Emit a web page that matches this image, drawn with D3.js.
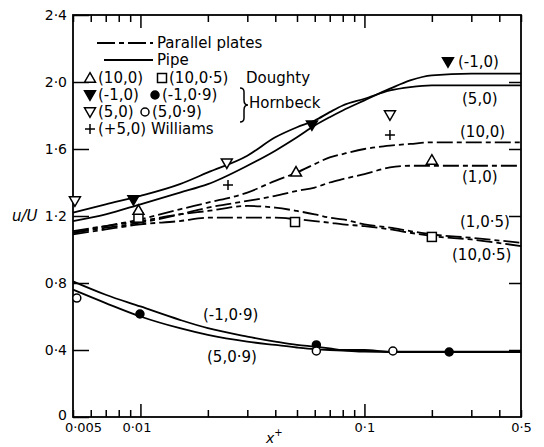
<!DOCTYPE html>
<html>
<head>
<meta charset="utf-8">
<script src="https://cdn.jsdelivr.net/npm/d3@7"></script>
<style>
  body { margin: 0; background: #fff; }
  svg { display: block; font-family: "DejaVu Sans", sans-serif; }
</style>
</head>
<body>
<div id="chart"></div>
<script>
// x+ values shared by every curve
var xGrid = [0.005, 0.007, 0.01, 0.015, 0.02, 0.03, 0.04, 0.05, 0.06, 0.07, 0.08, 0.1, 0.13, 0.16, 0.2, 0.3, 0.5];

// pipe curves (solid)
var pipeM1_0  = [1.17, 1.21, 1.27, 1.34, 1.39, 1.50, 1.59, 1.67, 1.74, 1.79, 1.83, 1.89, 1.96, 2.01, 2.04, 2.05, 2.05];
var pipe5_0   = [1.22, 1.27, 1.32, 1.39, 1.46, 1.56, 1.67, 1.73, 1.77, 1.82, 1.86, 1.90, 1.95, 1.97, 1.98, 1.98, 1.98];
var pipeM1_09 = [0.81, 0.73, 0.66, 0.58, 0.53, 0.48, 0.45, 0.43, 0.42, 0.41, 0.40, 0.40, 0.39, 0.39, 0.39, 0.39, 0.39];
var pipe5_09  = [0.76, 0.68, 0.60, 0.53, 0.49, 0.45, 0.43, 0.415, 0.405, 0.40, 0.397, 0.39, 0.388, 0.388, 0.388, 0.388, 0.388];

// parallel plate curves (dash-dot)
var plates10_0  = [1.10, 1.14, 1.18, 1.24, 1.28, 1.34, 1.41, 1.46, 1.51, 1.55, 1.57, 1.60, 1.62, 1.63, 1.64, 1.64, 1.64];
var plates1_0   = [1.10, 1.13, 1.16, 1.21, 1.25, 1.29, 1.32, 1.35, 1.37, 1.40, 1.42, 1.45, 1.49, 1.50, 1.50, 1.50, 1.50];
var plates1_05  = [1.11, 1.14, 1.17, 1.21, 1.23, 1.26, 1.25, 1.23, 1.21, 1.19, 1.18, 1.15, 1.13, 1.11, 1.09, 1.07, 1.04];
var plates10_05 = [1.09, 1.12, 1.15, 1.17, 1.19, 1.19, 1.19, 1.18, 1.17, 1.16, 1.15, 1.14, 1.12, 1.10, 1.08, 1.06, 1.02];

// measured points [x+, u/U]
var doughty10_0   = [[0.0098, 1.235], [0.0495, 1.463], [0.2, 1.534]];
var doughty10_05  = [[0.0098, 1.19], [0.049, 1.164], [0.2, 1.075]];
var hornbeckM1_0  = [[0.0093, 1.296], [0.0583, 1.743], [0.236, 2.12]];
var hornbeck5_0   = [[0.0051, 1.29], [0.0243, 1.516], [0.130, 1.803]];
var hornbeckM1_09 = [[0.00995, 0.615], [0.061, 0.43], [0.239, 0.388]];
var hornbeck5_09  = [[0.0052, 0.71], [0.061, 0.394], [0.134, 0.394]];
var williams5_0   = [[0.0246, 1.385], [0.130, 1.684]];

// axis ticks
var xTicks = [0.005, 0.006, 0.007, 0.008, 0.009, 0.01, 0.02, 0.03, 0.04, 0.05, 0.06, 0.07, 0.08, 0.09, 0.1, 0.2, 0.3, 0.4, 0.5];
var xLabels = { 0.005: "0·005", 0.01: "0·01", 0.1: "0·1", 0.5: "0·5" };
var yTicks = [0, 0.4, 0.8, 1.2, 1.6, 2.0, 2.4];
var yLabels = ["0", "0·4", "0·8", "1·2", "1·6", "2·0", "2·4"];

var width = 544, height = 447;
var margin = { top: 15, right: 23, bottom: 30, left: 73 };
var w = width - margin.left - margin.right;
var h = height - margin.top - margin.bottom;

var svg = d3.select("#chart")
  .append("svg")
  .attr("width", width)
  .attr("height", height)
  .append("g")
  .attr("transform", "translate(" + margin.left + "," + margin.top + ")");

var x = d3.scaleLog().domain([0.005, 0.5]).range([0, w]);
var y = d3.scaleLinear().domain([0, 2.4]).range([h, 0]);

// frame
svg.append("rect")
  .attr("width", w).attr("height", h)
  .attr("fill", "none").attr("stroke", "#000").attr("stroke-width", 1.8);

function tidy(g) {
  g.select(".domain").remove();
  g.selectAll(".tick line").attr("stroke", "#000").attr("stroke-width", 1.5);
  g.selectAll(".tick text").attr("fill", "#000").attr("font-family", "DejaVu Sans");
}

// bottom axis, ticks point inwards
var xAxisB = svg.append("g")
  .attr("transform", "translate(0," + h + ")")
  .call(d3.axisBottom(x).tickValues(xTicks).tickSizeInner(-7).tickSizeOuter(0).tickPadding(6)
    .tickFormat(function (d) { return xLabels[d] || ""; }))
  .call(tidy);
xAxisB.selectAll(".tick text").attr("font-size", 13);
xAxisB.selectAll(".tick").filter(function (d) { return d === 0.01 || d === 0.1; })
  .select("line").attr("y2", -13);
xAxisB.selectAll(".tick").filter(function (d) { return d === 0.005; })
  .select("text").attr("dx", 10);
xAxisB.selectAll(".tick").filter(function (d) { return d === 0.01; })
  .select("text").attr("dx", -4);

var xAxisT = svg.append("g")
  .call(d3.axisTop(x).tickValues(xTicks).tickSizeInner(-7).tickSizeOuter(0).tickFormat(""))
  .call(tidy);
xAxisT.selectAll(".tick").filter(function (d) { return d === 0.01 || d === 0.1; })
  .select("line").attr("y2", 13);

// left axis
var yAxisL = svg.append("g")
  .call(d3.axisLeft(y).tickValues(yTicks).tickSizeInner(-16).tickSizeOuter(0).tickPadding(6)
    .tickFormat(function (d, i) { return yLabels[i]; }))
  .call(tidy);
yAxisL.selectAll(".tick text").attr("font-size", 14);
yAxisL.selectAll(".tick").filter(function (d) { return d === 0; })
  .select("text").attr("dy", "0.2em");

svg.append("g")
  .attr("transform", "translate(" + w + ",0)")
  .call(d3.axisRight(y).tickValues(yTicks.slice(1, -1)).tickSizeInner(-12).tickSizeOuter(0).tickFormat(""))
  .call(tidy);

// axis titles
svg.append("text")
  .attr("x", -61).attr("y", y(1.2) + 5)
  .attr("font-size", 15).attr("font-style", "italic")
  .text("u/U");

var xt = svg.append("text")
  .attr("x", 193).attr("y", h + 26)
  .attr("font-size", 14).attr("font-style", "italic")
  .text("x");
xt.append("tspan").attr("font-size", 10).attr("font-style", "normal").attr("dy", -7).text("+");

// curves
var line = d3.line()
  .x(function (d) { return x(d[0]); })
  .y(function (d) { return y(d[1]); })
  .curve(d3.curveMonotoneX);

var platesDash = "16,4,5,4";
var curves = [
  { v: pipeM1_0, dash: null, label: "(-1,0)", lx: 385, lu: 2.12 },
  { v: pipe5_0, dash: null, label: "(5,0)", lx: 389, lu: 1.90 },
  { v: plates10_0, dash: platesDash, label: "(10,0)", lx: 387, lu: 1.70 },
  { v: plates1_0, dash: platesDash, label: "(1,0)", lx: 389, lu: 1.43 },
  { v: plates1_05, dash: platesDash, label: "(1,0·5)", lx: 387, lu: 1.165 },
  { v: plates10_05, dash: platesDash, label: "(10,0·5)", lx: 379, lu: 0.965 },
  { v: pipeM1_09, dash: null, label: "(-1,0·9)", lx: 130, lu: 0.610 },
  { v: pipe5_09, dash: null, label: "(5,0·9)", lx: 134, lu: 0.360 }
];

curves.forEach(function (c) {
  var pts = xGrid.map(function (xv, i) { return [xv, c.v[i]]; });
  svg.append("path")
    .datum(pts)
    .attr("d", line)
    .attr("fill", "none")
    .attr("stroke", "#000")
    .attr("stroke-width", 1.8)
    .attr("stroke-dasharray", c.dash);
  svg.append("text")
    .attr("x", c.lx).attr("y", y(c.lu) + 5)
    .attr("font-size", 15)
    .text(c.label);
});

// markers
function marker(g, kind) {
  var tri = d3.symbol().type(d3.symbolTriangle).size(52)();
  if (kind === "up" || kind === "down" || kind === "downFill") {
    g.append("path").attr("d", tri)
      .attr("transform", kind === "up" ? "translate(0,1)" : "rotate(180) translate(0,1)")
      .attr("fill", kind === "downFill" ? "#000" : "#fff")
      .attr("stroke", "#000").attr("stroke-width", 1.5);
  } else if (kind === "square") {
    g.append("rect").attr("x", -4.5).attr("y", -4.5).attr("width", 9).attr("height", 9)
      .attr("fill", "#fff").attr("stroke", "#000").attr("stroke-width", 1.5);
  } else if (kind === "dot" || kind === "ring") {
    g.append("circle").attr("r", 4)
      .attr("fill", kind === "dot" ? "#000" : "#fff")
      .attr("stroke", "#000").attr("stroke-width", 1.5);
  } else if (kind === "plus") {
    g.append("path").attr("d", "M-5,0H5M0,-5V5")
      .attr("stroke", "#000").attr("stroke-width", 1.5);
  }
}

var pointSets = [
  { pts: doughty10_05, kind: "square" },
  { pts: doughty10_0, kind: "up" },
  { pts: hornbeckM1_0, kind: "downFill" },
  { pts: hornbeck5_0, kind: "down" },
  { pts: hornbeckM1_09, kind: "dot" },
  { pts: hornbeck5_09, kind: "ring" },
  { pts: williams5_0, kind: "plus" }
];

pointSets.forEach(function (s) {
  s.pts.forEach(function (p) {
    var g = svg.append("g").attr("transform", "translate(" + x(p[0]) + "," + y(p[1]) + ")");
    marker(g, s.kind);
  });
});

// legend (coordinates relative to plot area)
var lg = svg.append("g").attr("font-size", 15);
lg.append("line").attr("x1", 24).attr("x2", 80).attr("y1", 28).attr("y2", 28)
  .attr("stroke", "#000").attr("stroke-width", 1.8).attr("stroke-dasharray", "18,4,5,4");
lg.append("text").attr("x", 84).attr("y", 33).text("Parallel plates");
lg.append("line").attr("x1", 31).attr("x2", 80).attr("y1", 45).attr("y2", 45)
  .attr("stroke", "#000").attr("stroke-width", 1.8);
lg.append("text").attr("x", 84).attr("y", 50).text("Pipe");

var rows = [
  { cy: 63, a: "up", at: "(10,0)", b: "square", bx: 89, bt: "(10,0·5)" },
  { cy: 80, a: "downFill", at: "(-1,0)", b: "dot", bx: 82, bt: "(-1,0·9)" },
  { cy: 97, a: "down", at: "(5,0)", b: "ring", bx: 72, bt: "(5,0·9)" },
  { cy: 114, a: "plus", at: "(+5,0) Williams", b: null }
];
rows.forEach(function (r) {
  marker(lg.append("g").attr("transform", "translate(17," + r.cy + ")"), r.a);
  lg.append("text").attr("x", 25).attr("y", r.cy + 5).text(r.at);
  if (r.b) {
    marker(lg.append("g").attr("transform", "translate(" + r.bx + "," + r.cy + ")"), r.b);
    lg.append("text").attr("x", r.bx + 7).attr("y", r.cy + 5).text(r.bt);
  }
});
lg.append("text").attr("x", 173).attr("y", 68).text("Doughty");
lg.append("path")
  .attr("d", "M167,73 q4,0 4,4 v8 q0,5 4,5 q-4,0 -4,5 v8 q0,4 -4,4")
  .attr("fill", "none").attr("stroke", "#000").attr("stroke-width", 1.5);
lg.append("text").attr("x", 176).attr("y", 93).text("Hornbeck");
</script>
</body>
</html>
